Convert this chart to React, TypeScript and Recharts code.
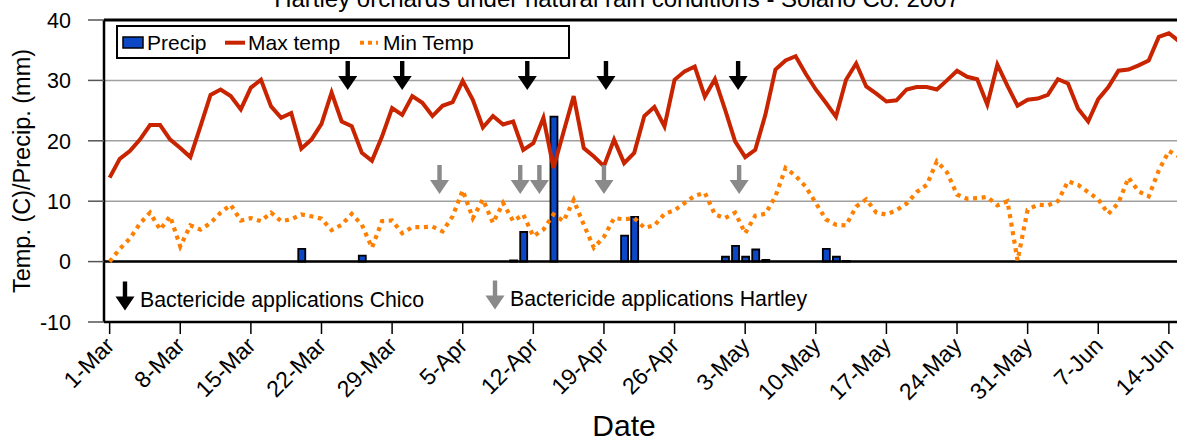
import React from "react";
import {
  ComposedChart,
  Bar,
  Line,
  XAxis,
  YAxis,
  CartesianGrid,
  ReferenceLine,
  ReferenceDot,
  Legend,
} from "recharts";

const FONT = "'Liberation Sans', Arial, sans-serif";
const BLUE = "#0c48c6";
const RED = "#c82400";
const ORANGE = "#ff8000";
const GRAY_ARROW = "#8a8a8a";

// day 0 = 1-Mar-2007
const tickDays = [0, 7, 14, 21, 28, 35, 42, 49, 56, 63, 70, 77, 84, 91, 98, 105];
const tickLabels = [
  "1-Mar", "8-Mar", "15-Mar", "22-Mar", "29-Mar", "5-Apr", "12-Apr", "19-Apr",
  "26-Apr", "3-May", "10-May", "17-May", "24-May", "31-May", "7-Jun", "14-Jun",
];
const yTicks = [-10, 0, 10, 20, 30, 40];

const maxTemp = [
  13.9, 17.0, 18.3, 20.2, 22.6, 22.6, 20.2, 18.8, 17.3, 22.4,
  27.6, 28.5, 27.4, 25.2, 28.8, 30.1, 25.7, 23.8, 24.6, 18.7,
  20.2, 22.8, 28.0, 23.2, 22.4, 18.0, 16.7, 20.7, 25.4, 24.3,
  27.4, 26.3, 24.1, 25.8, 26.4, 29.9, 26.8, 22.2, 24.1, 22.7,
  23.2, 18.5, 19.6, 23.8, 15.5, 21.5, 27.4, 18.8, 17.4, 15.8,
  20.2, 16.3, 18.0, 24.1, 25.6, 22.4, 30.1, 31.5, 32.3, 27.3,
  30.2, 25.2, 19.9, 17.3, 18.5, 24.3, 31.8, 33.3, 34.0, 31.1,
  28.5, 26.3, 24.0, 30.1, 32.8, 29.0, 27.8, 26.5, 26.7, 28.5,
  28.9, 28.9, 28.5, 30.0, 31.6, 30.6, 30.2, 26.0, 32.6, 29.1,
  25.8, 26.8, 27.0, 27.6, 30.2, 29.5, 25.3, 23.2, 26.9, 28.9,
  31.6, 31.8, 32.5, 33.3, 37.2, 37.8, 36.5,
];

const minTemp = [
  0.0, 2.1, 3.8, 6.3, 8.1, 5.3, 7.5, 2.5, 6.0, 5.3,
  6.4, 8.1, 9.4, 6.8, 7.2, 6.7, 8.1, 6.7, 7.0, 7.8,
  7.5, 7.1, 5.2, 6.1, 7.9, 6.1, 2.3, 6.7, 6.8, 4.7,
  5.7, 5.7, 5.8, 5.0, 7.5, 11.8, 7.2, 10.3, 6.4, 9.7,
  6.7, 7.8, 4.2, 5.3, 7.8, 6.7, 10.2, 6.1, 2.3, 4.1,
  7.2, 7.0, 7.2, 5.6, 6.0, 7.9, 8.5, 9.7, 10.9, 11.4,
  7.8, 7.2, 8.1, 4.7, 7.6, 7.9, 10.8, 15.5, 14.2, 12.4,
  9.7, 7.0, 6.1, 6.0, 9.1, 10.3, 8.1, 7.8, 8.5, 9.6,
  11.5, 12.7, 16.6, 14.8, 11.1, 10.4, 10.5, 10.7, 9.3, 10.0,
  0.2, 8.6, 9.4, 9.3, 10.0, 13.3, 12.7, 11.5, 10.3, 7.9,
  9.7, 13.9, 11.6, 10.8, 15.1, 18.3, 17.4,
];

const precip = [
  0, 0, 0, 0, 0, 0, 0, 0, 0, 0,
  0, 0, 0, 0, 0, 0, 0, 0, 0, 2.1,
  0, 0, 0, 0, 0, 1.0, 0, 0, 0, 0,
  0, 0, 0, 0, 0, 0, 0, 0, 0, 0,
  0.2, 4.9, 0, 0, 24.0, 0, 0, 0, 0, 0,
  0, 4.3, 7.4, 0, 0, 0, 0, 0, 0, 0,
  0, 0.8, 2.6, 0.8, 2.0, 0.3, 0, 0, 0, 0,
  0, 2.1, 0.8, 0.1, 0, 0, 0, 0, 0, 0,
  0, 0, 0, 0, 0, 0, 0, 0, 0, 0,
  0, 0, 0, 0, 0, 0, 0, 0, 0, 0,
  0, 0, 0, 0, 0, 0, 0,
];

// spray dates drawn as arrows (day index, arrow tip value)
const chicoSprays = [23.6, 29.0, 41.4, 49.2, 62.3];
const chicoTip = 28.4;
const hartleySprays = [32.7, 40.7, 42.6, 49.0, 62.4];
const hartleyTip = 11.2;

const data = maxTemp.map((v, i) => ({
  day: i,
  max: v,
  min: minTemp[i],
  precip: precip[i],
}));

function arrowPath(cx: number, cy: number) {
  const h = 29, hw = 9.5, hh = 14, sw = 2.2;
  return `M${cx - sw},${cy - h} L${cx + sw},${cy - h} L${cx + sw},${cy - hh} L${cx + hw},${cy - hh} L${cx},${cy} L${cx - hw},${cy - hh} L${cx - sw},${cy - hh} Z`;
}

const Arrow = (color: string) => (p: any) => <path d={arrowPath(p.cx, p.cy)} fill={color} />;

const NoteArrow = (color: string, label: string) => (p: any) => (
  <g>
    <path d={arrowPath(p.cx, p.cy)} fill={color} />
    <text x={p.cx + 15} y={p.cy - 3.5} fontSize={21.3} fontFamily={FONT} fill="#000">
      {label}
    </text>
  </g>
);

const XTick = (props: any) => {
  const { x, y, payload } = props;
  const idx = tickDays.indexOf(payload.value);
  const ax = x + 6;
  const ay = y + 13;
  return (
    <text
      x={ax}
      y={ay}
      transform={`rotate(-45 ${ax} ${ay})`}
      textAnchor="end"
      fontSize={23}
      fontFamily={FONT}
      fill="#000"
    >
      {tickLabels[idx]}
    </text>
  );
};

const YTick = (props: any) => {
  const { x, y, payload } = props;
  return (
    <text x={x} y={y} dy="0.36em" textAnchor="end" fontSize={21.5} fontFamily={FONT} fill="#000">
      {payload.value}
    </text>
  );
};

const LegendBox = () => (
  <svg width={456} height={35} style={{ display: "block" }}>
    <rect x={1} y={1} width={452} height={32} fill="#fff" stroke="#000" strokeWidth={2} />
    <rect x={7} y={12} width={20} height={11} fill={BLUE} stroke="#000" strokeWidth={1.5} />
    <text x={31} y={25} fontSize={21} fontFamily={FONT}>Precip</text>
    <line x1={109} x2={129} y1={17.7} y2={17.7} stroke={RED} strokeWidth={4} />
    <text x={132} y={25} fontSize={21} fontFamily={FONT}>Max temp</text>
    <line x1={244} x2={262} y1={17.7} y2={17.7} stroke={ORANGE} strokeWidth={4} strokeDasharray="4 4" />
    <text x={267} y={25} fontSize={21} fontFamily={FONT}>Min Temp</text>
  </svg>
);

export default function App() {
  return (
    <div
      style={{
        position: "absolute",
        left: 0,
        top: 0,
        width: 1177,
        height: 439,
        overflow: "hidden",
        background: "#fff",
        fontFamily: FONT,
      }}
    >
      <div
        style={{
          position: "absolute",
          left: 0,
          width: 1234,
          top: -13,
          textAlign: "center",
          fontSize: 24,
          lineHeight: 1,
          whiteSpace: "nowrap",
        }}
      >
        Hartley orchards under natural rain conditions - Solano Co. 2007
      </div>
      <ComposedChart
        width={1184}
        height={439}
        data={data}
        margin={{ top: 20, right: 0, bottom: 0, left: 0 }}
      >
        <CartesianGrid vertical={false} stroke="#a0a0a0" strokeWidth={1.5} />
        <XAxis
          type="number"
          dataKey="day"
          domain={[-0.56, 106.5]}
          ticks={tickDays}
          interval={0}
          height={117}
          tickSize={12}
          tickMargin={0}
          tick={<XTick />}
          axisLine={{ stroke: "#000", strokeWidth: 2.5 }}
          tickLine={{ stroke: "#000", strokeWidth: 1.5 }}
          label={() => (
            <text x={624} y={436} textAnchor="middle" fontSize={30} fontFamily={FONT} fill="#000">
              Date
            </text>
          )}
        />
        <YAxis
          type="number"
          domain={[-10, 40]}
          ticks={yTicks}
          interval={0}
          width={104}
          tickSize={16}
          tickMargin={17}
          tick={<YTick />}
          axisLine={{ stroke: "#000", strokeWidth: 2.5 }}
          tickLine={{ stroke: "#555", strokeWidth: 1.5 }}
          label={() => (
            <text
              x={22}
              y={171}
              transform="rotate(-90 22 171)"
              textAnchor="middle"
              dominantBaseline="central"
              fontSize={23.5}
              fontFamily={FONT}
              fill="#000"
            >
              Temp. (C)/Precip. (mm)
            </text>
          )}
        />
        <ReferenceLine y={40} stroke="#000" strokeWidth={3} />
        <ReferenceLine y={0} stroke="#000" strokeWidth={2.5} />
        <Bar dataKey="precip" barSize={7} fill={BLUE} stroke="#000" strokeWidth={1.8} isAnimationActive={false} />
        <Line
          type="linear"
          dataKey="min"
          stroke={ORANGE}
          strokeWidth={4.2}
          strokeDasharray="4 4.6"
          dot={false}
          isAnimationActive={false}
        />
        <Line type="linear" dataKey="max" stroke={RED} strokeWidth={4} dot={false} isAnimationActive={false} />
        {chicoSprays.map((d) => (
          <ReferenceDot key={"c" + d} x={d} y={chicoTip} r={0} shape={Arrow("#000")} />
        ))}
        {hartleySprays.map((d) => (
          <ReferenceDot key={"h" + d} x={d} y={hartleyTip} r={0} shape={Arrow(GRAY_ARROW)} />
        ))}
        <ReferenceDot x={1.52} y={-8.1} r={0} shape={NoteArrow("#000", "Bactericide applications Chico")} />
        <ReferenceDot x={38.2} y={-7.95} r={0} shape={NoteArrow(GRAY_ARROW, "Bactericide applications Hartley")} />
        <Legend
          layout="vertical"
          align="center"
          verticalAlign="middle"
          content={() => <LegendBox />}
          wrapperStyle={{ left: 116, top: 25, width: 456, height: 35 }}
        />
      </ComposedChart>
    </div>
  );
}
